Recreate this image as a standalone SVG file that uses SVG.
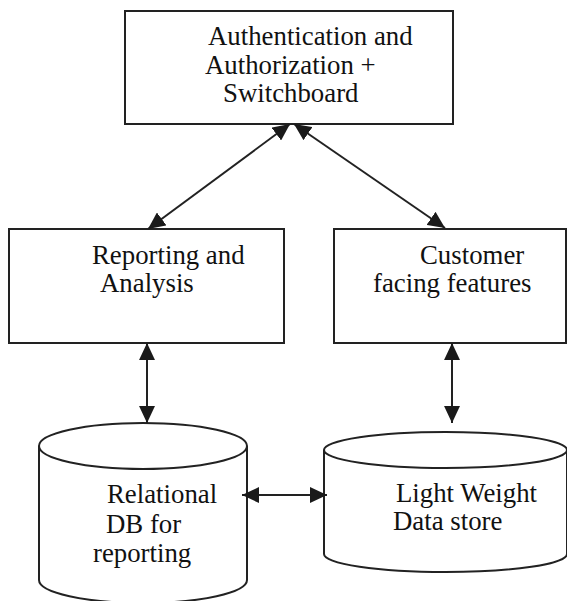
<svg xmlns="http://www.w3.org/2000/svg" width="567" height="601" viewBox="0 0 567 601">
<style>
.box{fill:#fff;stroke:#222;stroke-width:2}
.cyl{fill:#fff;stroke:#222;stroke-width:2}
.t{font-family:'Liberation Serif','Times New Roman',Times,serif;font-size:26.8px;fill:#111}
.c{stroke:#222;stroke-width:2;fill:none;marker-start:url(#ah);marker-end:url(#ah)}
</style>
<defs>
<marker id="ah" markerUnits="userSpaceOnUse" markerWidth="17" markerHeight="16" viewBox="0 0 16 15" refX="16" refY="7.5" orient="auto-start-reverse">
<path d="M0,0 L16,7.5 L0,15 z" fill="#1a1a1a"/>
</marker>
</defs>
<rect width="567" height="601" fill="#fff"/>
<g id="auth">
<rect class="box" x="125" y="11" width="328" height="113"/>
<text class="t" x="208" y="45">Authentication and</text>
<text class="t" x="205" y="74">Authorization +</text>
<text class="t" x="223" y="102">Switchboard</text>
</g>
<g id="reporting">
<rect class="box" x="9" y="229" width="275" height="114"/>
<text class="t" x="92" y="264">Reporting and</text>
<text class="t" x="100" y="292">Analysis</text>
</g>
<g id="customer">
<rect class="box" x="334" y="229" width="232" height="114"/>
<text class="t" x="420" y="264">Customer</text>
<text class="t" x="373" y="292">facing features</text>
</g>
<g id="relational">
<path class="cyl" d="M39,446 A104,23 0 0 1 247,446 L247,580 A104,23 0 0 1 39,580 Z"/>
<path class="cyl" d="M39,446 A104,23 0 0 0 247,446"/>
<text class="t" x="107" y="503">Relational</text>
<text class="t" x="106" y="533">DB for</text>
<text class="t" x="93" y="562">reporting</text>
</g>
<g id="lightweight">
<path class="cyl" d="M324,450 A121.5,18 0 0 1 567,450 L567,554 A121.5,18 0 0 1 324,554 Z"/>
<path class="cyl" d="M324,450 A121.5,18 0 0 0 567,450"/>
<text class="t" x="396" y="502">Light Weight</text>
<text class="t" x="393" y="530">Data store</text>
</g>
<g id="connectors">
<line class="c" x1="290" y1="124" x2="148" y2="229"/>
<line class="c" x1="294" y1="124" x2="445" y2="228"/>
<line class="c" x1="147" y1="343" x2="147" y2="423"/>
<line class="c" x1="452" y1="343" x2="452" y2="423"/>
<line class="c" x1="242" y1="495" x2="327" y2="495"/>
</g>
</svg>
